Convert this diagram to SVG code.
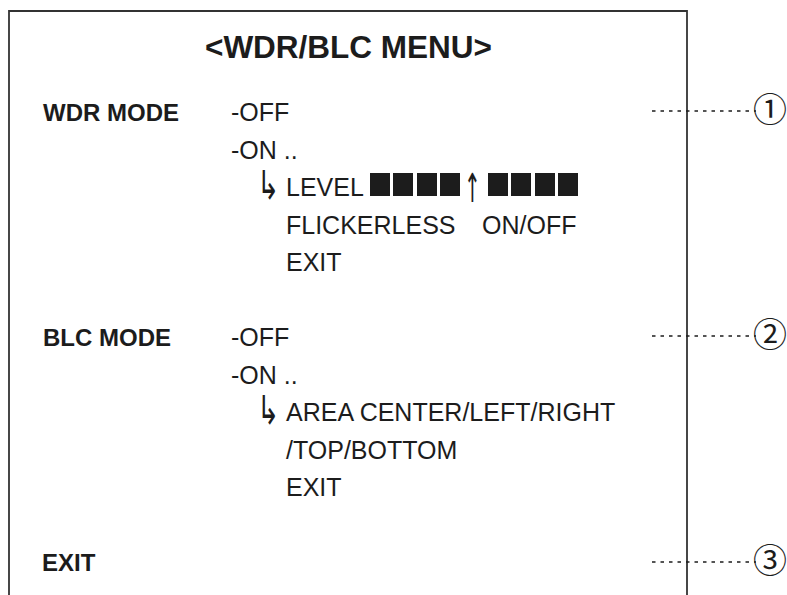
<svg xmlns="http://www.w3.org/2000/svg" width="787" height="595" viewBox="0 0 787 595">
<style>
  .t { font-family: "Liberation Sans", Arial, sans-serif; font-size: 25px; fill: #1c1c1c; }
  .b { font-family: "Liberation Sans", Arial, sans-serif; font-size: 24px; font-weight: bold; fill: #1c1c1c; }
  .sym { font-family: "DejaVu Sans", sans-serif; font-size: 40px; fill: #1c1c1c; }
  .num { font-family: "Noto Sans CJK JP", "DejaVu Sans", sans-serif; font-size: 34px; fill: #1c1c1c; }
  .blk { fill: #1c1c1c; }
  .lead { stroke: #1c1c1c; stroke-width: 1.6; stroke-dasharray: 3.5 5; fill: none; }
</style>
<rect width="787" height="595" fill="#ffffff"/>
<g id="frame">
  <path d="M9,595 V11 H687 V595" fill="none" stroke="#333333" stroke-width="1.8"/>
</g>
<g id="title">
  <text class="b" x="348.5" y="58" text-anchor="middle" style="font-size:31.5px">&lt;WDR/BLC MENU&gt;</text>
</g>
<g id="wdr">
  <text class="b" x="43" y="121">WDR MODE</text>
  <text class="t" x="231" y="121">-OFF</text>
  <text class="t" x="231" y="159">-ON ..</text>
  <text class="sym" transform="translate(257,199) scale(0.66,1)">↳</text>
  <text class="t" x="286" y="196">LEVEL</text>
  <rect class="blk" x="370" y="173" width="20" height="23"/>
  <rect class="blk" x="393" y="173" width="20" height="23"/>
  <rect class="blk" x="417" y="173" width="20" height="23"/>
  <rect class="blk" x="440" y="173" width="20" height="23"/>
  <text class="sym" transform="translate(464,202) scale(0.5,1)">↑</text>
  <rect class="blk" x="488" y="173" width="20" height="23"/>
  <rect class="blk" x="511" y="173" width="20" height="23"/>
  <rect class="blk" x="535" y="173" width="20" height="23"/>
  <rect class="blk" x="558" y="173" width="20" height="23"/>
  <text class="t" x="286" y="234">FLICKERLESS</text>
  <text class="t" x="482" y="234">ON/OFF</text>
  <text class="t" x="286" y="271">EXIT</text>
</g>
<g id="blc">
  <text class="b" x="43" y="346">BLC MODE</text>
  <text class="t" x="231" y="346">-OFF</text>
  <text class="t" x="231" y="384">-ON ..</text>
  <text class="sym" transform="translate(257,424) scale(0.66,1)">↳</text>
  <text class="t" x="286" y="421">AREA CENTER/LEFT/RIGHT</text>
  <text class="t" x="286" y="459">/TOP/BOTTOM</text>
  <text class="t" x="286" y="496">EXIT</text>
</g>
<g id="exit">
  <text class="b" x="42" y="571">EXIT</text>
</g>
<g id="connectors">
  <line class="lead" x1="652" y1="111" x2="756" y2="111"/>
  <line class="lead" x1="652" y1="336" x2="756" y2="336"/>
  <line class="lead" x1="652" y1="562" x2="756" y2="562"/>
</g>
<g id="callout-1"><text class="num" x="770" y="122" text-anchor="middle">①</text></g>
<g id="callout-2"><text class="num" x="770" y="347" text-anchor="middle">②</text></g>
<g id="callout-3"><text class="num" x="770" y="573" text-anchor="middle">③</text></g>
</svg>
